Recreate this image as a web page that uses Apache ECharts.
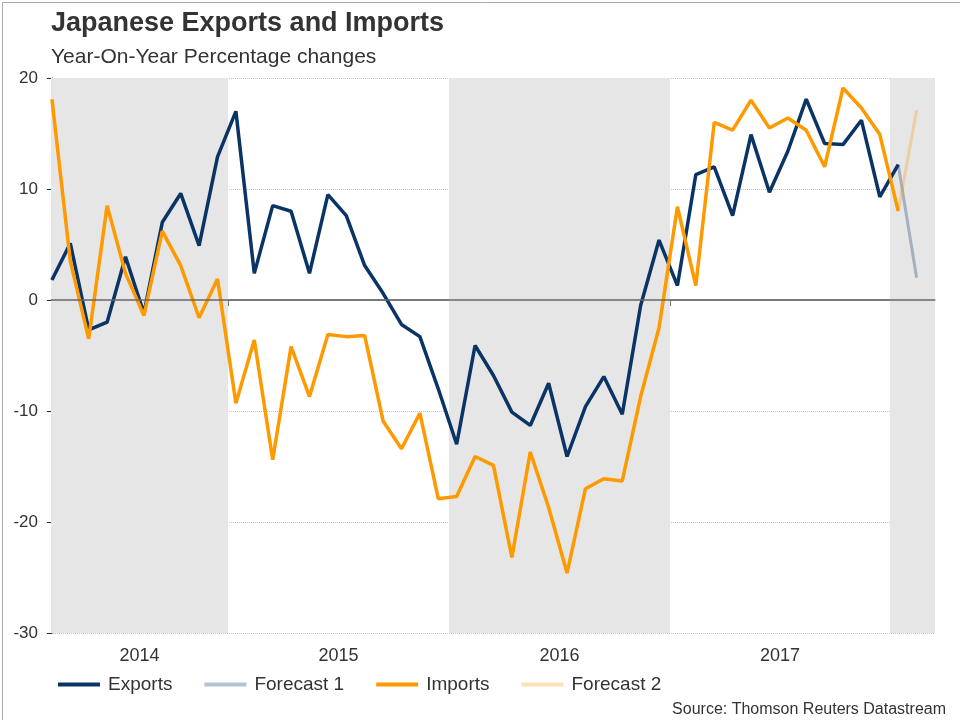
<!DOCTYPE html>
<html lang="en">
<head>
    <meta charset="UTF-8">
    <title>Japanese Exports and Imports</title>
    <script src="https://cdn.jsdelivr.net/npm/echarts@6/dist/echarts.min.js"></script>
    <style>
        html, body { margin: 0; padding: 0; background: #fff; }
        #main { width: 960px; height: 720px; }
    </style>
</head>
<body>
<div id="main"></div>
<script type="text/javascript">
    // monthly y/y % changes, Mar 2014 .. Jan 2018 (index 0 = Mar 2014)
    var exportsYoY = [
        1.8, 5.1, -2.7, -2.0, 3.9, -1.2, 7.0, 9.6, 4.9, 12.9,
        17.0, 2.4, 8.5, 8.0, 2.4, 9.5, 7.6, 3.1, 0.6, -2.2, -3.3, -8.0,
        -13.0, -4.1, -6.8, -10.1, -11.3, -7.5, -14.1, -9.6, -6.9, -10.3, -0.5, 5.4,
        1.3, 11.3, 12.0, 7.6, 14.9, 9.7, 13.4, 18.1, 14.1, 14.0, 16.2, 9.3,
        12.2
    ];
    var importsYoY = [
        18.1, 3.5, -3.5, 8.5, 2.4, -1.4, 6.2, 3.1, -1.6, 1.9,
        -9.3, -3.6, -14.4, -4.2, -8.7, -3.1, -3.3, -3.2, -10.9, -13.4, -10.2, -17.9,
        -17.7, -14.1, -14.9, -23.2, -13.7, -18.7, -24.6, -17.0, -16.1, -16.3, -8.7, -2.5,
        8.4, 1.3, 16.0, 15.3, 18.0, 15.5, 16.4, 15.3, 12.0, 19.1, 17.3, 14.9,
        8.0
    ];
    // forecasts: Jan 2018 (last actual) -> Feb 2018
    var forecast1 = [12.2, 2.0];
    var forecast2 = [8.0, 17.1];
    var forecastStart = 46;

    var years = ['2014', '2015', '2016', '2017'];
    // year boundaries on the month index scale
    var yearEdges = [-0.05, 9.57, 21.58, 33.59, 45.55, 48];

    function toPoints(arr, start) {
        var out = [];
        for (var i = 0; i < arr.length; i++) {
            out.push([start + i, arr[i]]);
        }
        return out;
    }

    var labelPos = [];
    for (var k = 0; k < years.length; k++) {
        labelPos.push((yearEdges[k] + yearEdges[k + 1]) / 2);
    }
    var bands = [];
    for (var b = 0; b < yearEdges.length - 1; b += 2) {
        bands.push([{xAxis: yearEdges[b]}, {xAxis: yearEdges[b + 1]}]);
    }

    var navy = '#0b3466';
    var orange = '#ff9900';
    var font = 'Liberation Sans, Arial, sans-serif';

    var myChart = echarts.init(document.getElementById('main'));
    var option = {
        animation: false,
        textStyle: {fontFamily: font},
        title: [
            {
                text: 'Japanese Exports and Imports',
                left: 46, top: 5,
                textStyle: {fontSize: 27, fontWeight: 'bold', color: '#333', fontFamily: font}
            },
            {
                text: 'Year-On-Year Percentage changes',
                left: 46, top: 42,
                textStyle: {fontSize: 21, fontWeight: 'normal', color: '#333', fontFamily: font}
            }
        ],
        legend: {
            left: 53, top: 670,
            itemWidth: 42, itemHeight: 4, itemGap: 32,
            icon: 'rect',
            textStyle: {fontSize: 19, color: '#333', padding: [0, 0, 0, 3], fontFamily: font},
            data: ['Exports', 'Forecast 1', 'Imports', 'Forecast 2']
        },
        graphic: [
            {
                type: 'text', right: 14, top: 702,
                style: {text: 'Source: Thomson Reuters Datastream', fill: '#333', font: '16px ' + font}
            },
            {
                type: 'rect', left: 0, top: 0, silent: true,
                shape: {x: 0, y: 0, width: 959, height: 719},
                style: {fill: 'none', stroke: '#aaa', lineWidth: 1}
            }
        ],
        grid: {left: 51, right: 25, top: 78, bottom: 87},
        xAxis: {
            type: 'value',
            min: yearEdges[0], max: yearEdges[yearEdges.length - 1],
            axisLine: {show: true, lineStyle: {color: '#a0a0a0', width: 1.5}},
            axisTick: {show: true, customValues: yearEdges.slice(1, 5), length: 6, lineStyle: {color: '#777'}},
            axisLabel: {
                customValues: labelPos,
                fontSize: 18, color: '#333', margin: 14,
                formatter: function (v) {
                    for (var i = 0; i < labelPos.length; i++) {
                        if (Math.abs(labelPos[i] - v) < 1e-6) return years[i];
                    }
                    return '';
                }
            },
            splitLine: {show: false}
        },
        yAxis: {
            type: 'value',
            min: -30, max: 20, interval: 10,
            axisLine: {show: true, lineStyle: {color: navy, width: 1}},
            axisTick: {show: true, length: 5, lineStyle: {color: navy}},
            axisLabel: {fontSize: 17, color: '#333', margin: 13},
            splitLine: {show: true, lineStyle: {type: 'dotted', color: '#c4c4c4'}}
        },
        series: [
            {
                name: 'bands',
                type: 'line',
                data: [],
                silent: true,
                markArea: {
                    silent: true,
                    itemStyle: {color: '#e6e6e6'},
                    data: bands
                },
                markLine: {
                    silent: true,
                    symbol: ['none', 'none'],
                    label: {show: false},
                    lineStyle: {color: '#666', type: 'solid', width: 1.5},
                    data: [{yAxis: 0}]
                }
            },
            {
                name: 'Forecast 1',
                type: 'line',
                data: toPoints(forecast1, forecastStart),
                showSymbol: false,
                color: 'rgba(11,52,102,0.3)',
                lineStyle: {width: 3, color: 'rgba(11,52,102,0.3)'}
            },
            {
                name: 'Forecast 2',
                type: 'line',
                data: toPoints(forecast2, forecastStart),
                showSymbol: false,
                color: 'rgba(255,153,0,0.3)',
                lineStyle: {width: 3, color: 'rgba(255,153,0,0.3)'}
            },
            {
                name: 'Exports',
                type: 'line',
                data: toPoints(exportsYoY, 0),
                showSymbol: false,
                color: navy,
                lineStyle: {width: 3.5, color: navy}
            },
            {
                name: 'Imports',
                type: 'line',
                data: toPoints(importsYoY, 0),
                showSymbol: false,
                color: orange,
                lineStyle: {width: 3.5, color: orange}
            }
        ]
    };
    myChart.setOption(option);
</script>
</body>
</html>
